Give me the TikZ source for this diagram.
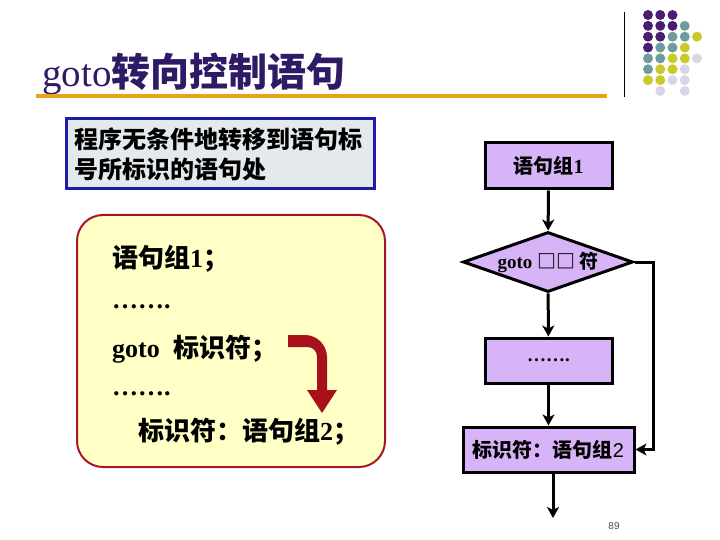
\documentclass[tikz,border=0pt]{standalone}
\usepackage{fontspec}
\setmainfont{Liberation Serif}
\setsansfont{Liberation Sans}
\newfontfamily\cjk{Noto Sans CJK SC}
\usetikzlibrary{shapes.geometric,arrows.meta}
\newcommand{\zhtxt}[1]{{\cjk #1}}
\definecolor{titlecol}{HTML}{2F1A66}
\definecolor{rulecol}{HTML}{E8A317}
\definecolor{bluebd}{HTML}{1C1CA8}
\definecolor{bluefill}{HTML}{E3E9EC}
\definecolor{yelfill}{HTML}{FFFFC6}
\definecolor{redbd}{HTML}{A5162A}
\definecolor{arrred}{HTML}{A8101C}
\definecolor{lav}{HTML}{D7B4F8}
\definecolor{dotP}{HTML}{4A1E6E}
\definecolor{dotT}{HTML}{6E9B9B}
\definecolor{dotY}{HTML}{C9C929}
\definecolor{dotL}{HTML}{D6D6E6}
\begin{document}
\begin{tikzpicture}[x=1pt,y=-1pt,
  codeline/.style={anchor=base west, inner sep=0pt, font=\fontsize{26}{26}\selectfont\bfseries},
  flowbox/.style={draw=black, line width=3pt, fill=lav, inner sep=0pt, font=\fontsize{20}{20}\selectfont\bfseries},
  flowarrow/.style={line width=3pt, -{Stealth[length=11pt,width=12pt,inset=3pt]}}
]
\useasboundingbox (0,0) rectangle (720,540);

% decorative dots
\foreach \c/\r/\col in {0/0/dotP,1/0/dotP,2/0/dotP,
  0/1/dotP,1/1/dotP,2/1/dotP,3/1/dotT,
  0/2/dotP,1/2/dotP,2/2/dotT,3/2/dotT,4/2/dotY,
  0/3/dotP,1/3/dotT,2/3/dotT,3/3/dotY,
  0/4/dotT,1/4/dotT,2/4/dotY,3/4/dotY,4/4/dotL,
  0/5/dotT,1/5/dotY,2/5/dotY,3/5/dotL,
  0/6/dotY,1/6/dotY,2/6/dotL,3/6/dotL,
  1/7/dotL,3/7/dotL}
  \fill[\col] (648+12.25*\c, 15+10.85*\r) circle[radius=5pt];
\draw[line width=1pt] (624,12) -- (624,97);

% title
\node[anchor=base west, inner sep=0pt, text=titlecol, font=\fontsize{39}{39}\selectfont] (title) at (42,87) {goto\zhtxt{\bfseries 转向控制语句}};
\draw[rulecol, line width=4pt] (36,96.5) -- (607,96.5);

% description box
\node[draw=bluebd, line width=3pt, fill=bluefill, minimum width=308pt, minimum height=70pt, text width=292pt, align=left, inner sep=0pt,
  font=\fontsize{24}{30}\selectfont\bfseries] (desc) at (220,154) {\zhtxt{程序无条件地转移到语句标\\号所标识的语句处}};

% code box
\node[draw=redbd, line width=2pt, fill=yelfill, rounded corners=26pt, minimum width=308pt, minimum height=252pt] (code) at (231,341) {};
\node[codeline] (l1) at (112,267) {\zhtxt{语句组}1\zhtxt{；}};
\node[codeline] (l2) at (112,308) {…….};
\node[codeline] (l3) at (112,357) {goto\hspace{14pt}\zhtxt{标识符；}};
\node[codeline] (l4) at (112,395) {…….};
\node[codeline] (l5) at (138,440) {\zhtxt{标识符：语句组}2\zhtxt{；}};

% bent red arrow
\fill[arrred] (288,335) -- (305,335) .. controls (317,335) and (327,345) .. (327,357)
  -- (327,390) -- (337,390) -- (322,413) -- (307,390) -- (317,390) -- (317,357)
  .. controls (317,351) and (313,347) .. (307,347) -- (288,347) -- cycle;

% flowchart
\node[flowbox, minimum width=127pt, minimum height=46pt] (b1) at (548.5,166) {\zhtxt{语句组}1};
\node[flowbox, diamond, aspect=2.83, minimum width=170pt, minimum height=60pt, font=\fontsize{19}{19}\selectfont\bfseries] (d) at (548,262) {goto \zhtxt{□□ 符}};
\node[flowbox, minimum width=127pt, minimum height=45pt, font=\fontsize{19}{19}\selectfont\bfseries] (b2) at (548.5,360.5) {…….};
\node[flowbox, minimum width=171pt, minimum height=45pt] (b3) at (548.5,449.5) {\zhtxt{标识符：语句组}{\sffamily\mdseries 2}};
\coordinate (end) at (553,518);

\draw[flowarrow] (b1) -- (d);
\draw[flowarrow] (d) -- (b2);
\draw[flowarrow] (b2) -- (b3);
\draw[flowarrow] (d.east) -- ++(19,0) |- (b3.east);
\draw[flowarrow] ([xshift=4.5pt]b3.south) -- (end);

\node[inner sep=0pt, font=\sffamily\fontsize{10}{10}\selectfont, text=black!70] (pg) at (614,526) {89};
\end{tikzpicture}
\end{document}
